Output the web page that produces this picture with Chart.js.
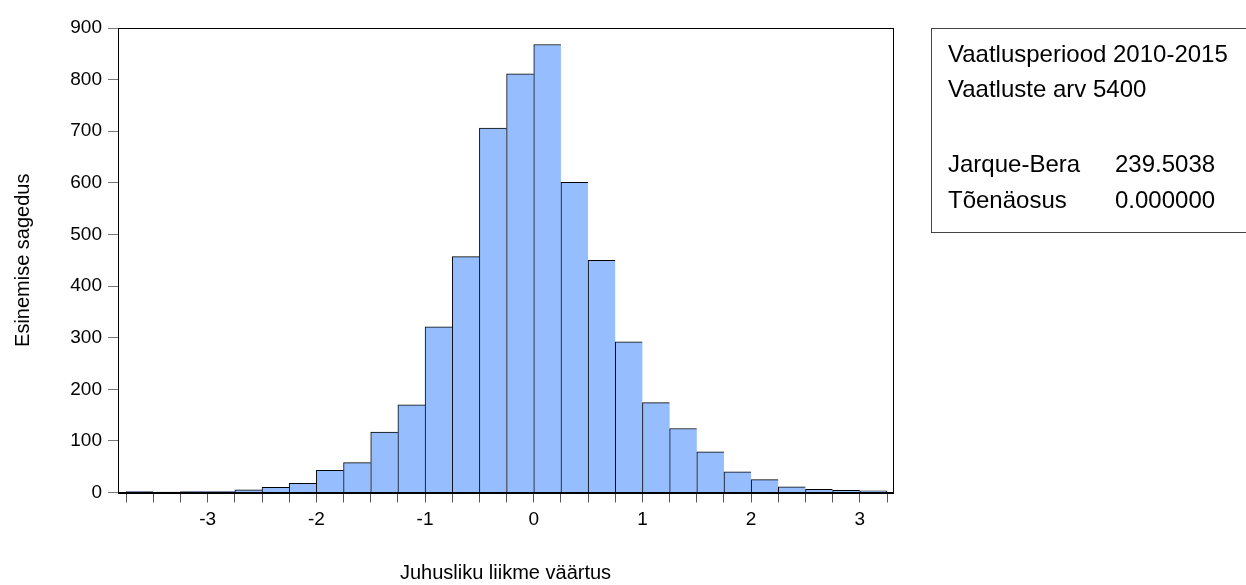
<!DOCTYPE html>
<html>
<head>
<meta charset="utf-8">
<script src="https://cdn.jsdelivr.net/npm/chart.js@4.4.1/dist/chart.umd.min.js"></script>
<style>
  html, body { margin: 0; padding: 0; background: #fff; }
  #wrap { width: 1246px; height: 585px; position: relative; }
</style>
</head>
<body>
<div id="wrap"><canvas id="histChart"></canvas></div>
<script>
// histogrammi andmed
const binEdges = [-3.75, -3.5, -3.25, -3, -2.75, -2.5, -2.25, -2, -1.75, -1.5, -1.25, -1, -0.75, -0.5, -0.25,
                  0, 0.25, 0.5, 0.75, 1, 1.25, 1.5, 1.75, 2, 2.25, 2.5, 2.75, 3, 3.25];
const counts = [2, 1, 2, 2, 5, 10, 18, 43, 58, 117, 170, 321, 457, 706, 811,
                868, 601, 450, 292, 174, 124, 79, 40, 25, 11, 6, 4, 3];
const xLabels = [-3, -2, -1, 0, 1, 2, 3];
const yTicks = [0, 100, 200, 300, 400, 500, 600, 700, 800, 900];

// statistika kast
const statsLines = [
    ['Vaatlusperiood 2010-2015', ''],
    ['Vaatluste arv 5400', ''],
    ['', ''],
    ['Jarque-Bera', '239.5038'],
    ['Tõenäosus', '0.000000']
];

const FONT = "'Liberation Sans', Arial, sans-serif";

const points = counts.map((c, i) => ({ x: (binEdges[i] + binEdges[i + 1]) / 2, y: c }));

// raam ümber joonise ja statistika kast
const framePlugin = {
    id: 'frame',
    afterDraw(chart) {
        const { ctx, chartArea: a } = chart;
        ctx.save();
        ctx.strokeStyle = '#000';
        ctx.lineWidth = 1;
        ctx.strokeRect(Math.round(a.left) + 0.5, Math.round(a.top) + 0.5,
                       Math.round(a.right - a.left), Math.round(a.bottom - a.top));

        // statistika kast
        ctx.strokeStyle = '#444';
        ctx.strokeRect(931.5, 28.5, 340, 204);
        ctx.fillStyle = '#000';
        ctx.font = '24px ' + FONT;
        ctx.textBaseline = 'alphabetic';
        const baselines = [62, 97, 134, 172, 208];
        statsLines.forEach((line, i) => {
            ctx.fillText(line[0], 948, baselines[i]);
            if (line[1]) ctx.fillText(line[1], 1115, baselines[i]);
        });
        ctx.restore();
    }
};

function createChart() {
    const ctx = document.getElementById('histChart').getContext('2d');
    const last = counts.length - 1;
    new Chart(ctx, {
        type: 'bar',
        data: {
            datasets: [{
                data: points,
                backgroundColor: 'rgb(150, 190, 255)',
                borderColor: '#000',
                borderWidth: (c) => ({ top: 1, left: 1, right: c.dataIndex === last ? 1 : 0, bottom: 0 }),
                borderSkipped: false,
                barPercentage: 1,
                categoryPercentage: 1
            }]
        },
        options: {
            responsive: true,
            maintainAspectRatio: false,
            animation: false,
            layout: { padding: { left: 0, top: 28, right: 353, bottom: 0 } },
            plugins: {
                legend: { display: false },
                tooltip: { enabled: false }
            },
            scales: {
                x: {
                    type: 'linear',
                    offset: false,
                    min: -3.825,
                    max: 3.305,
                    afterBuildTicks: (axis) => { axis.ticks = binEdges.map(v => ({ value: v })); },
                    afterFit: (axis) => { axis.height = 92.5; },
                    ticks: {
                        autoSkip: false,
                        maxRotation: 0,
                        padding: 6,
                        color: '#000',
                        font: { family: FONT, size: 19 },
                        callback: (v) => xLabels.includes(v) ? String(v) : ''
                    },
                    grid: {
                        offset: false,
                        drawOnChartArea: false,
                        drawTicks: true,
                        tickLength: 10,
                        tickColor: '#555'
                    },
                    border: { color: '#000', width: 1 },
                    title: {
                        display: true,
                        text: 'Juhusliku liikme väärtus',
                        color: '#000',
                        font: { family: FONT, size: 20 },
                        padding: { top: 0, bottom: 0 }
                    }
                },
                y: {
                    min: 0,
                    max: 900,
                    afterBuildTicks: (axis) => { axis.ticks = yTicks.map(v => ({ value: v })); },
                    afterFit: (axis) => { axis.width = 118; },
                    ticks: {
                        padding: 6,
                        color: '#000',
                        font: { family: FONT, size: 19 }
                    },
                    grid: {
                        drawOnChartArea: false,
                        drawTicks: true,
                        tickLength: 10,
                        tickColor: '#777'
                    },
                    border: { color: '#000', width: 1 },
                    title: {
                        display: true,
                        text: 'Esinemise sagedus',
                        color: '#000',
                        font: { family: FONT, size: 20 },
                        padding: { top: 11, bottom: 0 }
                    }
                }
            }
        },
        plugins: [framePlugin]
    });
}

document.addEventListener('DOMContentLoaded', createChart);
</script>
</body>
</html>
